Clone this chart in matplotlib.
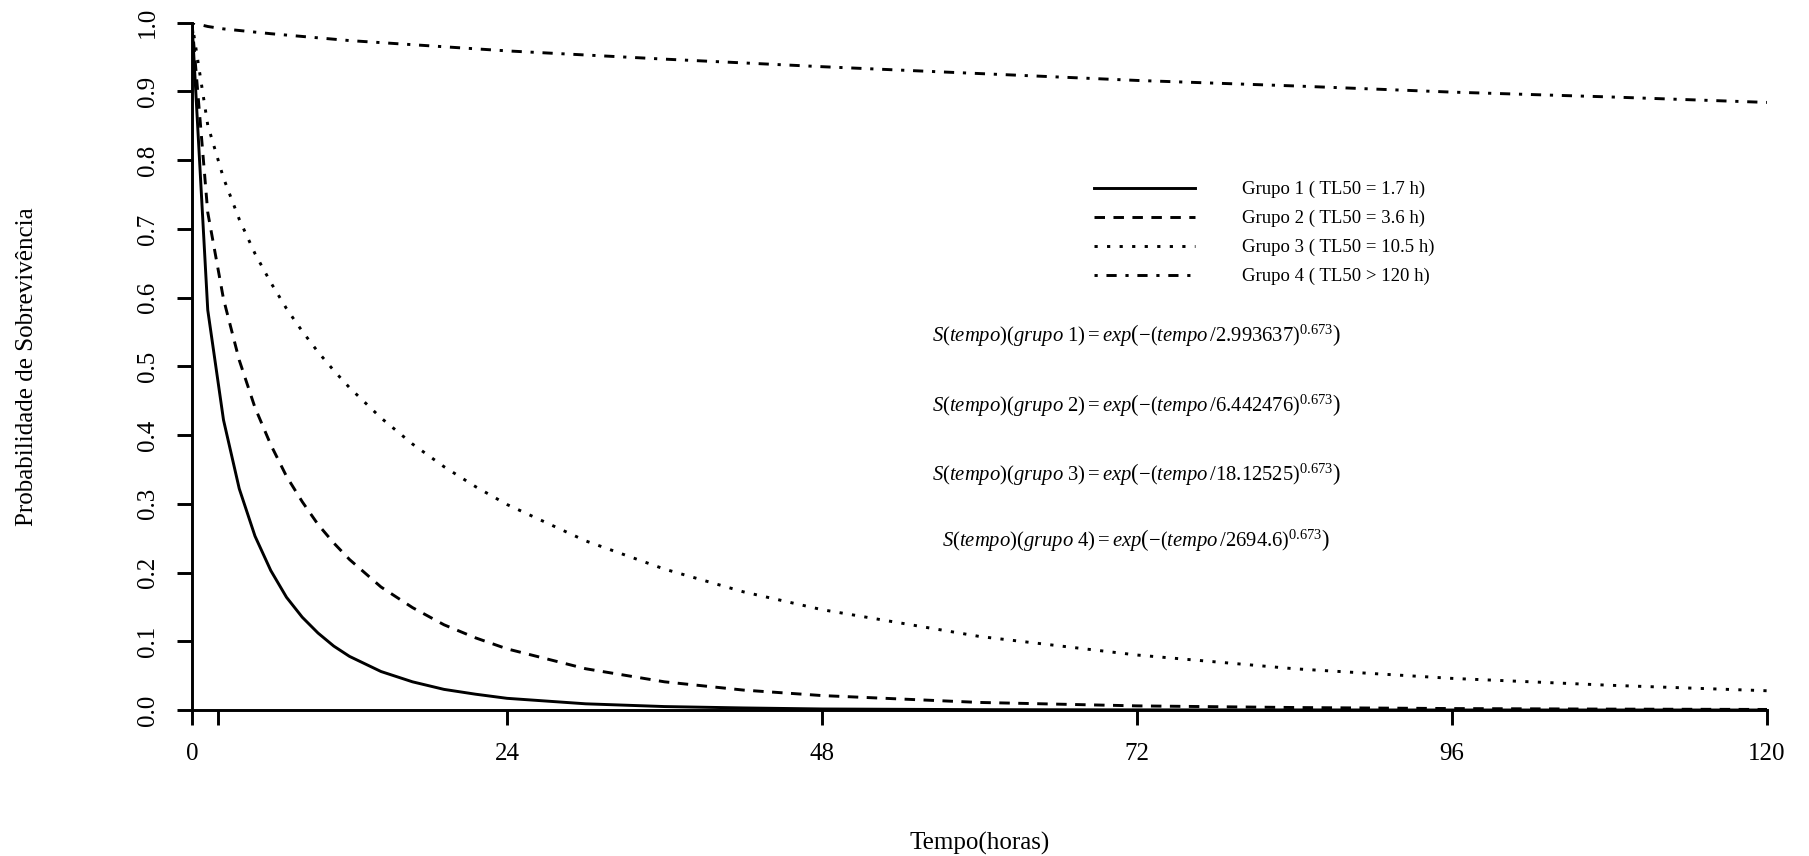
import matplotlib
matplotlib.use("Agg")
import matplotlib.pyplot as plt

plt.rcParams["font.family"] = ["Liberation Serif", "DejaVu Serif"]
plt.rcParams["mathtext.fontset"] = "custom"
plt.rcParams["mathtext.rm"] = "Liberation Serif"
plt.rcParams["mathtext.it"] = "Liberation Serif:italic"

# hours, survival probability
tempo = [0, 1.2, 2.4, 3.6, 4.8, 6, 7.2, 8.4, 9.6, 10.8, 12, 14.4, 16.8, 19.2,
         21.6, 24, 30, 36, 42, 48, 60, 72, 84, 96, 108, 120]
grupo1 = [1.0, 0.582, 0.422, 0.322, 0.253, 0.203, 0.164, 0.135, 0.112, 0.093,
          0.078, 0.056, 0.041, 0.030, 0.023, 0.017, 0.009, 0.005, 0.003, 0.0015,
          0.0005, 0.0002, 0.0001, 0.0, 0.0, 0.0]
grupo2 = [1.0, 0.724, 0.598, 0.509, 0.440, 0.386, 0.340, 0.303, 0.270, 0.243,
          0.219, 0.179, 0.149, 0.124, 0.105, 0.089, 0.060, 0.041, 0.029, 0.021,
          0.011, 0.006, 0.0036, 0.0021, 0.0013, 0.0008]
grupo3 = [1.0, 0.851, 0.774, 0.714, 0.664, 0.622, 0.584, 0.551, 0.521, 0.494,
          0.469, 0.425, 0.387, 0.354, 0.325, 0.299, 0.246, 0.205, 0.172, 0.146,
          0.107, 0.080, 0.060, 0.046, 0.036, 0.028]
tempo4 = [0, 1.2, 2.4, 6, 12, 24, 36, 48, 60, 72, 84, 96, 108, 120]
grupo4 = [1.0, 0.9945, 0.991, 0.984, 0.974, 0.959, 0.947, 0.936, 0.926, 0.916,
          0.908, 0.899, 0.892, 0.884]

rotulos = ["Grupo 1 ( TL50 = 1.7 h)", "Grupo 2 ( TL50 = 3.6 h)",
           "Grupo 3 ( TL50 = 10.5 h)", "Grupo 4 ( TL50 > 120 h)"]
escalas = ["2.993637", "6.442476", "18.12525", "2694.6"]
forma = "0.673"
xticks = [0, 2, 24, 48, 72, 96, 120]
xlabels = ["0", "", "24", "48", "72", "96", "120"]
yticks = [0.0, 0.1, 0.2, 0.3, 0.4, 0.5, 0.6, 0.7, 0.8, 0.9, 1.0]

fig = plt.figure(figsize=(18.09, 8.56), dpi=100)
ax = fig.add_axes([192 / 1809, 1 - 710 / 856, (1767 - 192) / 1809, (710 - 22.7) / 856])

lw = 2.1
ax.plot(tempo, grupo1, color="black", lw=lw, ls="-", label=rotulos[0])
ax.plot(tempo, grupo2, color="black", lw=lw, ls=(0, (3.6, 2.9)), label=rotulos[1])
ax.plot(tempo, grupo3, color="black", lw=lw, ls=(0, (1.1, 3.2)), label=rotulos[2])
ax.plot(tempo4, grupo4, color="black", lw=lw, ls=(0, (1.1, 3.0, 3.5, 3.0)), label=rotulos[3])

ax.set_xlim(0, 120)
ax.set_ylim(0, 1)
for s in ["top", "right"]:
    ax.spines[s].set_visible(False)
for s in ["left", "bottom"]:
    ax.spines[s].set_linewidth(lw)
ax.spines["left"].set_bounds(0, 1)
ax.spines["bottom"].set_bounds(0, 120)

ax.set_xticks(xticks)
ax.set_xticklabels(xlabels)
ax.set_yticks(yticks)
ax.set_yticklabels([f"{v:.1f}" for v in yticks], rotation=90, va="center")
ax.tick_params(axis="both", direction="out", length=10.8, width=lw, labelsize=18)
ax.tick_params(axis="x", pad=13)
ax.tick_params(axis="y", pad=13)

fig.text(27 / 1809, 1 - 367 / 856, "Probabilidade de Sobrevivência", rotation=90,
         ha="center", va="center", fontsize=18)
fig.text((192 + 1767) / 2 / 1809, 1 - 843 / 856, "Tempo(horas)",
         ha="center", va="center", fontsize=18)

leg = ax.legend(loc="upper left", bbox_to_anchor=(1094 / 1809, 1 - 181 / 856),
                bbox_transform=fig.transFigure, frameon=False, fontsize=13.5,
                handlelength=5.4, handletextpad=2.5, labelspacing=0.62,
                borderpad=0, borderaxespad=0)

eq_y = [335, 405, 474, 540]
for i, (esc, yy) in enumerate(zip(escalas, eq_y)):
    txt = (r"$\mathit{S(tempo)(grupo\ %d)} = \mathit{exp}\left(-\left(\mathit{tempo}\,/%s\right)^{%s}\right)$"
           % (i + 1, esc, forma))
    fig.text(1136 / 1809, 1 - yy / 856, txt, ha="center", va="center", fontsize=14.9)

fig.savefig("out.png", dpi=100)
